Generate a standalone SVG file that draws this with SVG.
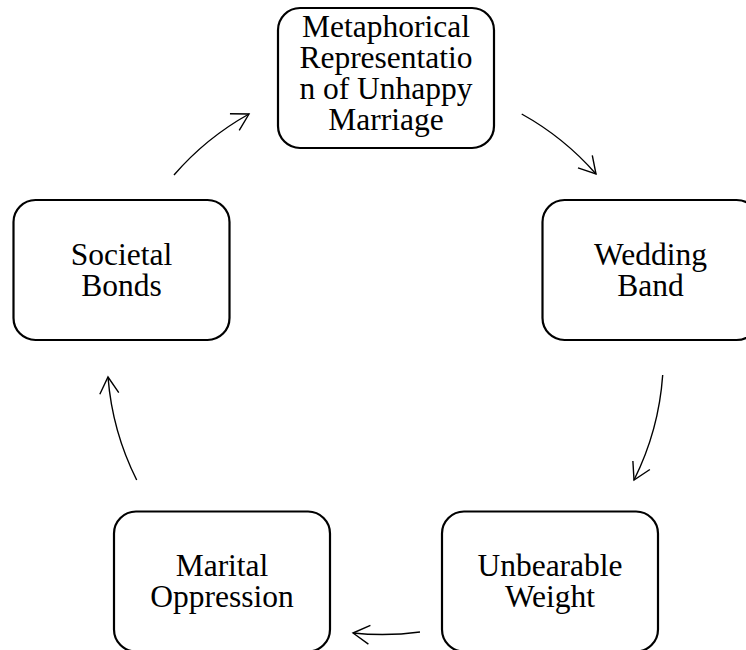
<svg xmlns="http://www.w3.org/2000/svg" width="746" height="650" viewBox="0 0 746 650">
<style>
.box{fill:#ffffff;stroke:#000000;stroke-width:2.2}
.lbl{font-family:"Liberation Serif","Times New Roman",serif;font-size:31.5px;fill:#000000;text-anchor:middle}
.arc{fill:none;stroke:#000000;stroke-width:1.4;marker-end:url(#arrow)}
</style>
<defs>
<marker id="arrow" markerUnits="userSpaceOnUse" viewBox="-20 -12 22 24" refX="0" refY="0" markerWidth="22" markerHeight="24" orient="auto">
<path d="M -16.5 -9.5 L 0 0 L -16.5 9.5" fill="none" stroke="#000000" stroke-width="1.4"/>
</marker>
</defs>
<rect width="746" height="650" fill="#ffffff"/>
<g id="connectors">
<path class="arc" d="M 521.7 114 A 278 278 0 0 1 596 174"/>
<path class="arc" d="M 662.7 375 A 278 278 0 0 1 634 480"/>
<path class="arc" d="M 420 632 A 278 278 0 0 1 353 633"/>
<path class="arc" d="M 136.7 480 A 278 278 0 0 1 108 377"/>
<path class="arc" d="M 174 175 A 278 278 0 0 1 249 114"/>
</g>
<g id="node-metaphor">
<rect class="box" x="278" y="8" width="216" height="140" rx="22" ry="22"/>
<text class="lbl"><tspan x="386" y="37">Metaphorical</tspan><tspan x="386" y="68">Representatio</tspan><tspan x="386" y="99">n of Unhappy</tspan><tspan x="386" y="130">Marriage</tspan></text>
</g>
<g id="node-wedding">
<rect class="box" x="542.5" y="200" width="216" height="140" rx="22" ry="22"/>
<text class="lbl"><tspan x="650.5" y="265">Wedding</tspan><tspan x="650.5" y="296">Band</tspan></text>
</g>
<g id="node-weight">
<rect class="box" x="442" y="511.5" width="216" height="140" rx="22" ry="22"/>
<text class="lbl"><tspan x="550" y="576">Unbearable</tspan><tspan x="550" y="607">Weight</tspan></text>
</g>
<g id="node-oppression">
<rect class="box" x="114" y="511.5" width="216" height="140" rx="22" ry="22"/>
<text class="lbl"><tspan x="222" y="576">Marital</tspan><tspan x="222" y="607">Oppression</tspan></text>
</g>
<g id="node-societal">
<rect class="box" x="13.5" y="200" width="216" height="140" rx="22" ry="22"/>
<text class="lbl"><tspan x="121.5" y="265">Societal</tspan><tspan x="121.5" y="296">Bonds</tspan></text>
</g>
</svg>
